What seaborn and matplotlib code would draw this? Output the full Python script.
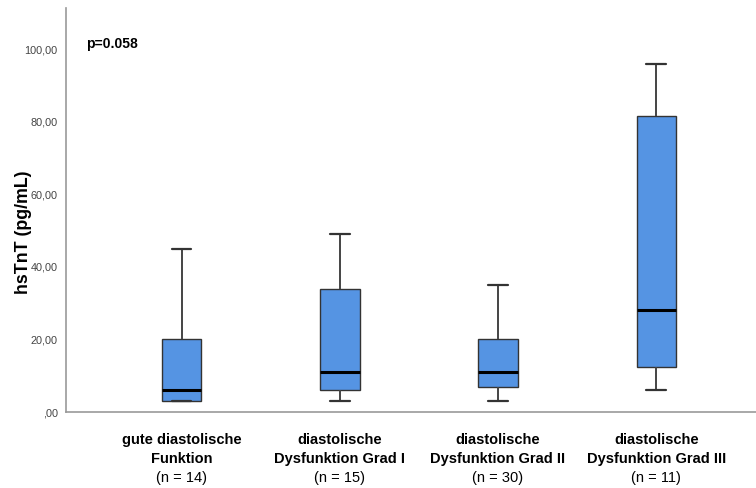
import matplotlib
matplotlib.use("Agg")
import matplotlib.pyplot as plt
import matplotlib.transforms as mtransforms
import numpy as np
import pandas as pd
import seaborn as sns

# five-number summaries (min, Q1, median, Q3, max)
groups = ["gute diastolische\nFunktion",
          "diastolische\nDysfunktion Grad I",
          "diastolische\nDysfunktion Grad II",
          "diastolische\nDysfunktion Grad III"]
n_labels = ["(n = 14)", "(n = 15)", "(n = 30)", "(n = 11)"]
lo_whisker = [3.0, 3.0, 3.0, 6.0]
q1 = [3.0, 6.0, 7.0, 12.5]
median = [6.0, 11.0, 11.0, 28.0]
q3 = [20.0, 34.0, 20.0, 81.5]
hi_whisker = [45.0, 49.0, 35.0, 96.0]
yticks = [0, 20, 40, 60, 80, 100]
p_text = "p=0.058"

rows = []
for g, a, b, c, d, e in zip(groups, lo_whisker, q1, median, q3, hi_whisker):
    for v in (a, b, c, d, e):
        rows.append({"group": g, "hsTnT": v})
df = pd.DataFrame(rows)

sns.set_style("white")
plt.rcParams["font.family"] = ["Liberation Sans", "DejaVu Sans"]
plt.rcParams["text.color"] = "black"

fig = plt.figure(figsize=(7.56, 4.88), dpi=100)
ax = fig.add_axes([66 / 756, 1 - 412 / 488, 1 - 66 / 756, 404 / 488])

sns.boxplot(data=df, x="group", y="hsTnT", order=groups, whis=(0, 100),
            width=0.25, color="#5594e3", saturation=1, linecolor="#333333",
            linewidth=1.0, showfliers=False,
            medianprops={"color": "black", "linewidth": 2.2},
            whiskerprops={"color": "#444444", "linewidth": 1.4},
            capprops={"color": "#333333", "linewidth": 1.6}, ax=ax)


def spss_fmt(v):
    s = f"{v:.2f}".replace(".", ",")
    return s[1:] if v == 0 else s


ax.set_xlim(-0.73, 3.63)
ax.set_ylim(0, 111.3)
ax.set_yticks(yticks)
ax.set_yticklabels([spss_fmt(v) for v in yticks], fontsize=7.8, color="#444444")
ax.tick_params(axis="y", length=0, pad=6)
ax.tick_params(axis="x", length=0, pad=15)
ax.set_xticks(range(len(groups)))
ax.set_xticklabels(groups, fontsize=10.5, fontweight="bold", color="black",
                   linespacing=1.45)
ax.set_xlabel("")
ax.set_ylabel("")
fig.text(24 / 756, 1 - 232 / 488, "hsTnT (pg/mL)", rotation=90, ha="center", va="center",
         fontsize=12.8, fontweight="bold")

trans = mtransforms.blended_transform_factory(ax.transData, fig.transFigure)
for i, t in enumerate(n_labels):
    ax.text(i, 1 - 478 / 488, t, transform=trans, ha="center", va="center",
            fontsize=10.5)

ax.text(86 / 756, 1 - 44 / 488, p_text, transform=fig.transFigure, ha="left", va="center",
        fontsize=10, fontweight="bold")

for side in ("top", "right"):
    ax.spines[side].set_visible(False)
for side in ("left", "bottom"):
    ax.spines[side].set_color("#999999")
    ax.spines[side].set_linewidth(1.2)

fig.savefig("out.png", dpi=100, facecolor="white")
